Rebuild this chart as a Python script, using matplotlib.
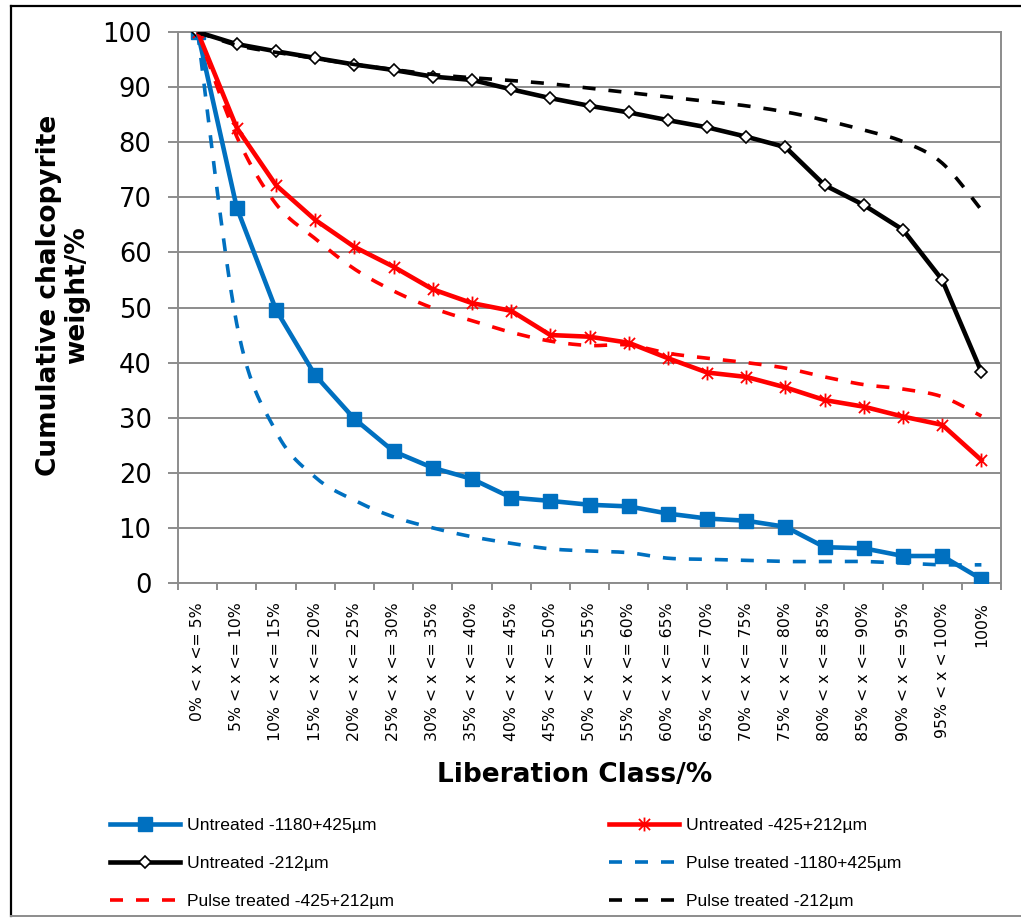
import numpy as np
import matplotlib
matplotlib.use("Agg")
import matplotlib.pyplot as plt
from matplotlib.path import Path
from matplotlib.lines import Line2D

# Liberation classes (x axis categories)
classes = [
    "0% < x <= 5%", "5% < x <= 10%", "10% < x <= 15%", "15% < x <= 20%",
    "20% < x <= 25%", "25% < x <= 30%", "30% < x <= 35%", "35% < x <= 40%",
    "40% < x <= 45%", "45% < x <= 50%", "50% < x <= 55%", "55% < x <= 60%",
    "60% < x <= 65%", "65% < x <= 70%", "70% < x <= 75%", "75% < x <= 80%",
    "80% < x <= 85%", "85% < x <= 90%", "90% < x <= 95%", "95% < x < 100%",
    "100%",
]

# Cumulative chalcopyrite weight (%) per liberation class
untreated_coarse = [100, 68.1, 49.6, 37.7, 29.8, 23.9, 20.9, 18.9, 15.5, 14.9, 14.2,
                    13.9, 12.6, 11.7, 11.3, 10.2, 6.5, 6.3, 4.9, 4.9, 0.7]
untreated_mid = [100, 82.6, 72.2, 65.9, 61.0, 57.4, 53.3, 50.8, 49.4, 45.0, 44.7,
                 43.6, 40.8, 38.2, 37.4, 35.5, 33.2, 32.0, 30.2, 28.7, 22.3]
untreated_fine = [100, 97.8, 96.5, 95.3, 94.1, 93.1, 91.9, 91.3, 89.6, 88.0, 86.6,
                  85.4, 84.0, 82.7, 81.0, 79.1, 72.2, 68.6, 64.1, 55.0, 38.3]
pulse_coarse = [100, 47.0, 27.5, 19.2, 15.0, 12.0, 10.0, 8.4, 7.2, 6.2, 5.8,
                5.5, 4.5, 4.3, 4.1, 3.9, 3.9, 3.9, 3.6, 3.3, 3.3]
pulse_mid = [100, 81.0, 68.8, 62.5, 57.0, 53.0, 49.9, 47.6, 45.5, 43.9, 43.1,
             43.2, 41.7, 40.8, 40.0, 39.0, 37.4, 36.0, 35.2, 33.8, 30.3]
pulse_fine = [100, 97.6, 96.3, 95.2, 94.1, 93.2, 92.3, 91.7, 91.2, 90.6, 89.8,
              89.0, 88.2, 87.4, 86.6, 85.5, 84.0, 82.2, 80.1, 76.2, 67.7]

labels = [
    "Untreated -1180+425\u00b5m", "Untreated -425+212\u00b5m", "Untreated -212\u00b5m",
    "Pulse treated -1180+425\u00b5m", "Pulse treated -425+212\u00b5m", "Pulse treated -212\u00b5m",
]

BLUE = "#0070C0"
RED = "#FF0000"
BLACK = "#000000"
GRID = "#8C8C8C"

W, H = 1021, 918
fig = plt.figure(figsize=(W / 100, H / 100), dpi=100)
fig.patch.set_facecolor("white")


def fx(px):
    return px / W


def fy(py):
    return 1 - py / H


ax = fig.add_axes([fx(178), fy(583), fx(1001) - fx(178), fy(32) - fy(583)])


def smooth(values, n=30):
    """Catmull-Rom curve through the points (index, value)."""
    pts = np.column_stack([np.arange(len(values)), np.asarray(values, float)])
    P = np.vstack([pts[0], pts, pts[-1]])
    t = np.linspace(0, 1, n, endpoint=False)[:, None]
    h00 = 2 * t**3 - 3 * t**2 + 1
    h10 = t**3 - 2 * t**2 + t
    h01 = -2 * t**3 + 3 * t**2
    h11 = t**3 - t**2
    out = []
    for i in range(len(pts) - 1):
        p0, p1, p2, p3 = P[i], P[i + 1], P[i + 2], P[i + 3]
        m1 = (p2 - p0) / 2
        m2 = (p3 - p1) / 2
        out.append(h00 * p1 + h10 * m1 + h01 * p2 + h11 * m2)
    out.append(pts[-1][None, :])
    c = np.vstack(out)
    return c[:, 0], c[:, 1]


# asterisk-style marker: an X crossed by a vertical bar
star_path = Path(
    [(-1, -1), (1, 1), (-1, 1), (1, -1), (0, -1.25), (0, 1.25)],
    [Path.MOVETO, Path.LINETO, Path.MOVETO, Path.LINETO, Path.MOVETO, Path.LINETO],
)

x = np.arange(len(classes))
solid_lw = 3.3
dash_lw = 2.6
dash = (3.6, 3.6)

h1, = ax.plot(x, untreated_coarse, color=BLUE, lw=solid_lw, marker="s", ms=10.5,
              mfc=BLUE, mec=BLUE, zorder=3)
h2, = ax.plot(x, untreated_mid, color=RED, lw=solid_lw, marker=star_path, ms=10,
              mfc="none", mec=RED, mew=1.3, zorder=4)
h3, = ax.plot(x, untreated_fine, color=BLACK, lw=solid_lw, marker="D", ms=6.5,
              mfc="white", mec=BLACK, mew=1.2, zorder=5)

sx, sy = smooth(pulse_coarse)
h4, = ax.plot(sx, sy, color=BLUE, lw=dash_lw, dashes=dash, dash_capstyle="butt", zorder=6)
sx, sy = smooth(pulse_mid)
h5, = ax.plot(sx, sy, color=RED, lw=dash_lw, dashes=dash, dash_capstyle="butt", zorder=7)
sx, sy = smooth(pulse_fine)
h6, = ax.plot(sx, sy, color=BLACK, lw=dash_lw, dashes=dash, dash_capstyle="butt", zorder=8)

ax.set_xlim(-0.5, len(classes) - 0.5)
ax.set_ylim(0, 100)
ax.set_yticks(np.arange(0, 101, 10))
ax.yaxis.grid(True, color=GRID, lw=1.4)
ax.set_axisbelow(True)

for s in ax.spines.values():
    s.set_color(GRID)
    s.set_linewidth(1.4)

ax.tick_params(axis="y", direction="out", length=7, width=1.4, color=GRID,
               labelsize=18.5, pad=12, labelcolor="black")
ax.set_xticks(x)
ax.set_xticklabels(classes, rotation=90, fontsize=11.3, va="top", ha="center")
ax.tick_params(axis="x", which="major", length=0, pad=14)
ax.set_xticks(np.arange(-0.5, len(classes), 1.0), minor=True)
ax.tick_params(axis="x", which="minor", direction="out", length=5, width=1.4, color=GRID)

fig.text(fx(63), fy(295), "Cumulative chalcopyrite\nweight/%", rotation=90,
         ha="center", va="center", multialignment="center", fontsize=19,
         fontweight="bold", linespacing=1.15)
fig.text(fx(575), fy(775), "Liberation Class/%", ha="center", va="center",
         fontsize=19, fontweight="bold")

leg_font = {"family": ["Liberation Sans", "DejaVu Sans"], "size": 12.6}
common = dict(frameon=False, ncol=1, loc="upper left", handlelength=4.0,
              handletextpad=0.42, labelspacing=1.3, borderpad=0, borderaxespad=0,
              numpoints=1, prop=leg_font)
fig.legend([h1, h3, h5], [labels[0], labels[2], labels[4]],
           bbox_to_anchor=(fx(110), fy(818)), **common)
fig.legend([h2, h4, h6], [labels[1], labels[3], labels[5]],
           bbox_to_anchor=(fx(609), fy(818)), **common)

# outer chart frame
fig.add_artist(Line2D([fx(11), fx(11)], [fy(6), fy(916)], color="black", lw=1.6))
fig.add_artist(Line2D([fx(11), fx(1021)], [fy(6), fy(6)], color="black", lw=1.6))
fig.add_artist(Line2D([fx(11), fx(1021)], [fy(916), fy(916)], color="#8C8C8C", lw=1.4))

fig.savefig("out.png", dpi=100, facecolor="white")
